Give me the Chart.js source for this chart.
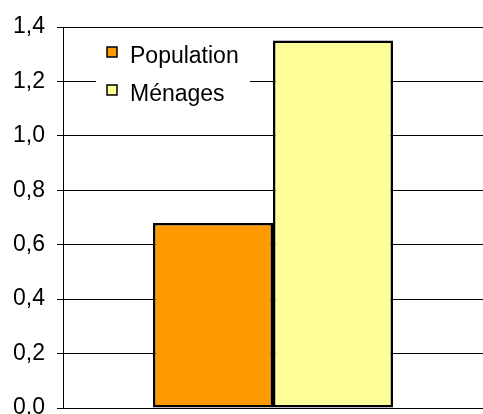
<!DOCTYPE html>
<html>
<head>
<meta charset="utf-8">
<script src="https://cdn.jsdelivr.net/npm/chart.js@4.4.0/dist/chart.umd.min.js"></script>
<style>
  html, body { margin: 0; padding: 0; background: #fff; }
  canvas { display: block; }
</style>
</head>
<body>
<canvas id="myChart" width="483" height="414"></canvas>
<script>
var categories = [''];
var seriesNames = ['Population', 'Ménages'];
var populationValues = [0.68];
var menagesValues = [1.35];
var yTicks = [0, 0.2, 0.4, 0.6, 0.8, 1.0, 1.2, 1.4];

var barColors = ['#FF9900', '#FFFF99'];
var FONT = 'Arial, "Liberation Sans", sans-serif';

// legend box drawn inside the plot, on a white background
var insideLegend = {
    id: 'insideLegend',
    afterDraw: function (chart) {
        var c = chart.ctx;
        var area = chart.chartArea;
        var x0 = area.left + 33, y0 = area.top + 7;
        c.save();
        c.fillStyle = '#fff';
        c.fillRect(x0, y0, 154, 80);
        c.font = '23px ' + FONT;
        c.textBaseline = 'alphabetic';
        chart.data.datasets.forEach(function (ds, i) {
            var by = y0 + 13 + i * 38;
            c.fillStyle = ds.backgroundColor;
            c.fillRect(x0 + 11, by, 10, 10);
            c.lineWidth = 1.5;
            c.strokeStyle = '#000';
            c.strokeRect(x0 + 11, by, 10, 10);
            c.fillStyle = '#000';
            c.fillText(ds.label, x0 + 34, by + 16);
        });
        c.restore();
    }
};

var ctx = document.getElementById('myChart').getContext('2d');
var myChart = new Chart(ctx, {
    type: 'bar',
    data: {
        labels: categories,
        datasets: [{
            label: seriesNames[0],
            data: populationValues,
            backgroundColor: barColors[0],
            borderColor: '#000',
            borderWidth: 2.5,
            borderSkipped: false
        }, {
            label: seriesNames[1],
            data: menagesValues,
            backgroundColor: barColors[1],
            borderColor: '#000',
            borderWidth: 2.5,
            borderSkipped: false
        }]
    },
    options: {
        responsive: false,
        animation: false,
        devicePixelRatio: 1,
        categoryPercentage: 0.5714,
        barPercentage: 1.0,
        layout: {
            padding: { top: 27, bottom: 6, left: 0, right: 0 }
        },
        plugins: {
            legend: { display: false },
            tooltip: { enabled: false }
        },
        scales: {
            x: { display: false },
            y: {
                min: 0,
                max: 1.4,
                afterBuildTicks: function (axis) {
                    axis.ticks = yTicks.map(function (v) { return { value: v }; });
                },
                afterFit: function (axis) {
                    axis.width = 63;
                    axis.paddingTop = 0;
                    axis.paddingBottom = 0;
                },
                grid: {
                    color: '#000',
                    lineWidth: 1,
                    tickLength: 6
                },
                border: { display: true, color: '#000', width: 1 },
                ticks: {
                    padding: 12,
                    color: '#000',
                    font: { family: FONT, size: 23 },
                    callback: function (v) { return v.toFixed(1).replace('.', ','); }
                }
            }
        }
    },
    plugins: [insideLegend]
});
</script>
</body>
</html>
